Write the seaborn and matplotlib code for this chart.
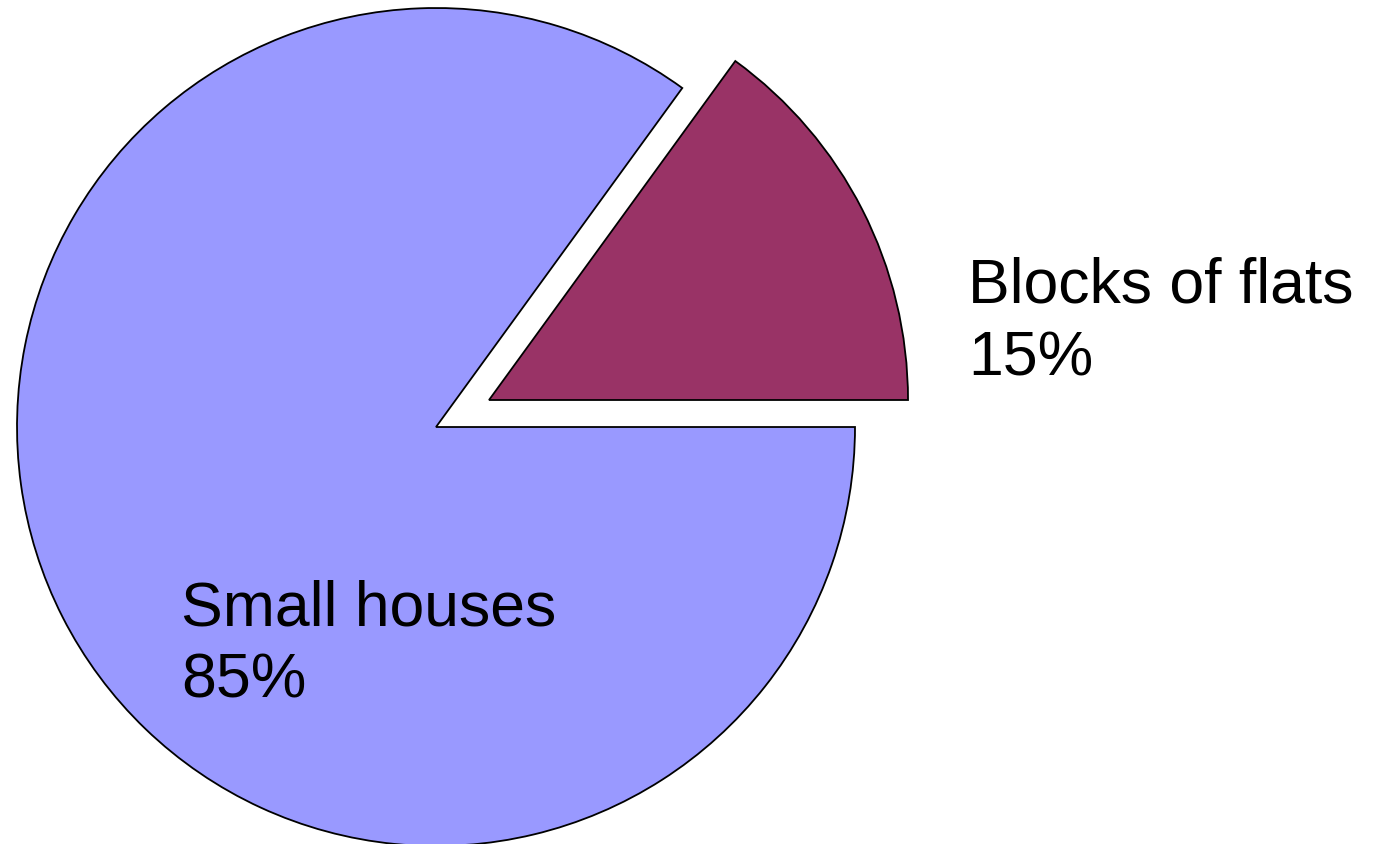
import numpy as np
import matplotlib
matplotlib.use('Agg')
import matplotlib.pyplot as plt
import seaborn as sns

labels = ['Blocks of flats', 'Small houses']
shares = [15, 85]
colors = ['#993366', '#9999FF']
explode = [0.142, 0.0]

sns.set_theme(style='white')
plt.rcParams['font.family'] = ['Liberation Sans', 'DejaVu Sans']

fig = plt.figure(figsize=(13.87, 8.45), dpi=100)
ax = fig.add_axes([0, 0, 1, 1])

ax.pie(shares, colors=colors, explode=explode, startangle=0, counterclock=True,
       radius=1.0, center=(0, 0),
       wedgeprops={'edgecolor': 'black', 'linewidth': 1.3})

# label positions (data units, radius = 1)
label_pos = [(1.270, 0.1265), (-0.608, -0.644)]
for (x, y), lab, pct in zip(label_pos, labels, shares):
    ax.text(x, y, f'{lab}\n{pct}%', fontsize=45, ha='left', va='baseline',
            linespacing=1.3, color='black')

ax.set_xlim(-1.0406, 2.2697)
ax.set_ylim(-0.9952, 1.0215)
ax.set_aspect('auto')
ax.axis('off')

plt.savefig('out.png', dpi=100)
